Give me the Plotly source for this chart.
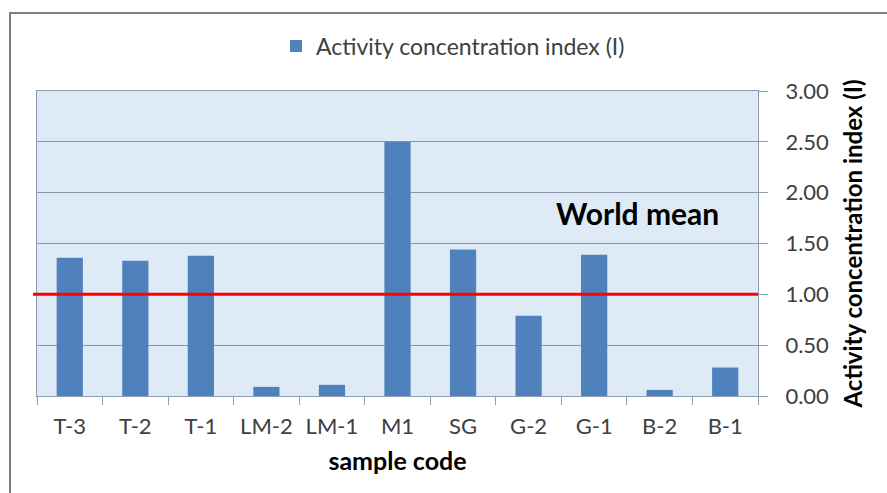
import plotly.graph_objects as go

categories = ["T-3", "T-2", "T-1", "LM-2", "LM-1", "M1", "SG", "G-2", "G-1", "B-2", "B-1"]
index_values = [1.36, 1.33, 1.38, 0.09, 0.11, 2.50, 1.44, 0.79, 1.39, 0.06, 0.28]
world_mean = 1.00
series_name = "Activity concentration index (I)"
y_ticks = [0.0, 0.5, 1.0, 1.5, 2.0, 2.5, 3.0]

FONT = "Lato"
W, H = 887, 493
L, R, T, B = 37, 129, 91, 97
pw = W - L - R
ph = H - T - B

def px_x(x):
    return (x - L) / pw

def px_y(y):
    return (H - B - y) / ph

fig = go.Figure()
fig.add_trace(go.Bar(
    x=categories, y=index_values, name=series_name,
    marker=dict(color="#4f81bd", line=dict(width=0)),
    showlegend=True,
))

fig.update_layout(
    width=W, height=H,
    margin=dict(l=L, r=R, t=T, b=B),
    paper_bgcolor="white",
    plot_bgcolor="#dfeaf7",
    bargap=0.6,
    font=dict(family=FONT, color="#404040", size=22),
    showlegend=True,
    legend=dict(
        orientation="h", x=px_x(453), xanchor="center", y=px_y(46), yanchor="middle",
        font=dict(family=FONT, size=23, color="#404040"),
        bgcolor="rgba(0,0,0,0)", itemwidth=30,
    ),
    xaxis=dict(
        type="category",
        title=dict(text="<b>sample code</b>", font=dict(family=FONT, size=25, color="#000000"), standoff=14),
        tickson="boundaries", ticks="outside", ticklen=8, tickcolor="#8b9cb3",
        ticklabelstandoff=11,
        showline=True, linecolor="#8b9cb3", linewidth=1, mirror=True,
        tickfont=dict(family=FONT, size=22, color="#404040"),
        showgrid=False,
    ),
    yaxis=dict(
        side="right", range=[0, 3], tickvals=y_ticks, tickformat=".2f",
        ticks="outside", ticklen=9, tickcolor="#8b9cb3",
        ticklabelstandoff=13,
        showline=True, linecolor="#8b9cb3", linewidth=1, mirror=True,
        gridcolor="#8c96a3", gridwidth=1,
        zeroline=False,
        tickfont=dict(family=FONT, size=22, color="#404040"),
        title=dict(text="<b>Activity concentration index (I)</b>",
                   font=dict(family=FONT, size=24, color="#000000"), standoff=17),
    ),
    shapes=[
        dict(type="line", xref="paper", yref="y", x0=px_x(33), x1=1.0,
             y0=world_mean, y1=world_mean, line=dict(color="#ff0000", width=3)),
        dict(type="rect", xref="paper", yref="paper", x0=px_x(10), x1=px_x(900),
             y0=px_y(520), y1=px_y(13), line=dict(color="#7f7f7f", width=2),
             fillcolor="rgba(0,0,0,0)", layer="above"),
    ],
    annotations=[
        dict(text="<b>World mean</b>", xref="paper", yref="paper",
             x=px_x(637), y=px_y(213), xanchor="center", yanchor="middle",
             showarrow=False, font=dict(family=FONT, size=30, color="#000000")),
    ],
)

fig.write_html("out.html")
